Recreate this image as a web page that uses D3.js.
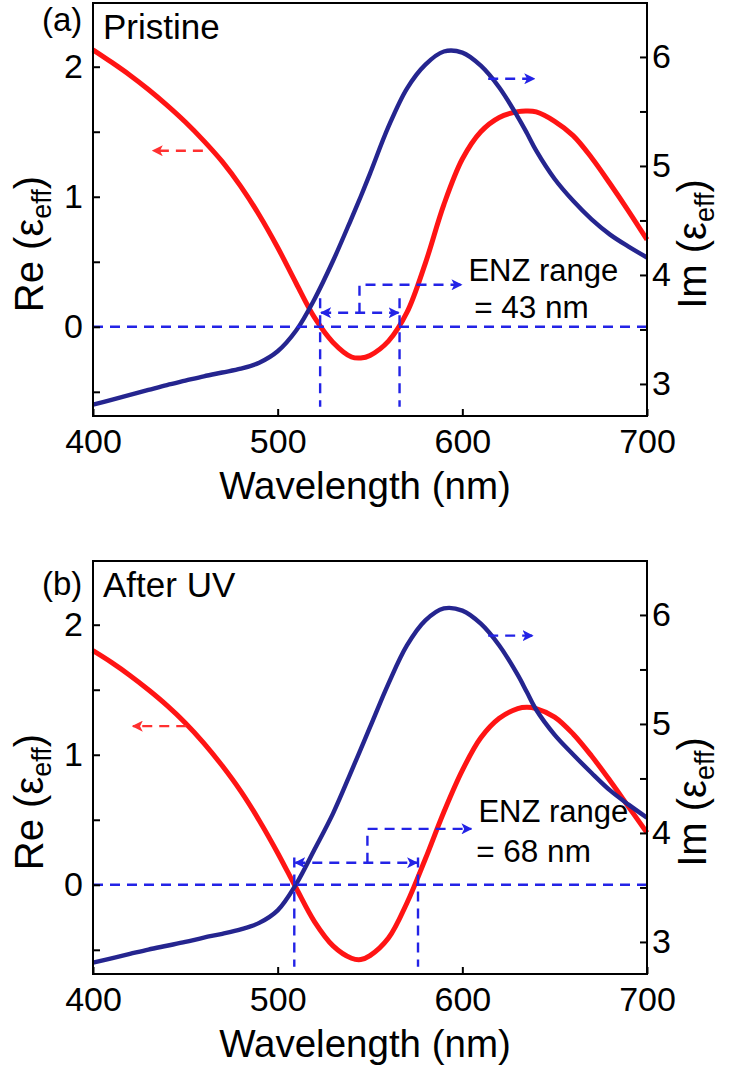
<!DOCTYPE html>
<html><head><meta charset="utf-8">
<script src="https://cdn.jsdelivr.net/npm/d3@7/dist/d3.min.js"></script>
<style>
body{margin:0;background:#fff;}
text{font-family:"Liberation Sans",Arial,sans-serif;fill:#000;}
</style></head>
<body><svg id="c" width="744" height="1068"></svg>
<script>
// Wavelength grid (nm)
const wavelength = [400,410,420,430,440,450,460,470,480,490,500,510,520,530,540,545,550,560,570,580,590,600,610,620,630,635,640,650,660,670,680,690,700];
// Panel (a) Pristine
const reA = [2.13,2.035,1.935,1.825,1.705,1.575,1.43,1.27,1.08,0.86,0.61,0.335,0.07,-0.12,-0.232,-0.24,-0.22,-0.11,0.11,0.49,0.94,1.29,1.50,1.61,1.655,1.66,1.652,1.58,1.47,1.30,1.10,0.89,0.67];
const imA = [2.81,2.855,2.90,2.945,2.99,3.03,3.07,3.105,3.14,3.195,3.30,3.49,3.78,4.13,4.52,4.72,4.93,5.36,5.71,5.93,6.05,6.04,5.92,5.72,5.45,5.30,5.14,4.88,4.68,4.51,4.37,4.26,4.16];
// Panel (b) After UV
const reB = [1.80,1.71,1.61,1.50,1.38,1.245,1.09,0.915,0.72,0.495,0.245,-0.025,-0.285,-0.47,-0.565,-0.575,-0.545,-0.41,-0.14,0.20,0.56,0.88,1.13,1.28,1.355,1.365,1.355,1.29,1.16,0.99,0.80,0.60,0.40];
const imB = [2.81,2.85,2.89,2.93,2.965,3.00,3.04,3.075,3.115,3.175,3.29,3.53,3.85,4.18,4.57,4.77,4.97,5.37,5.72,5.95,6.06,6.04,5.92,5.72,5.45,5.29,5.13,4.90,4.72,4.55,4.39,4.26,4.14];

const xTicks = [400,500,600,700];
const leftTicks = [0,1,2];
const leftMinor = [-0.5,0.5,1.5];
const rightTicks = [3,4,5,6];
const rightMinor = [3.5,4.5,5.5];

const panels = [
  {tag:"(a)", name:"Pristine", re:reA, im:imA, top:3, range:"= 43 nm",
   enz:[523,566], brX:544.3, arrV:0.108, brTop:0.323, brTip:599.5, vTop:0.22, vBot:-0.615,
   txt1:0.354, txt2:0.069, txt2x:606.4,
   redArr:{y:1.354,x1:459.5,x2:432.4}, bluArr:{y:5.80,x1:614,x2:638.9},
   tagY:31, nameY:39},
  {tag:"(b)", name:"After UV", re:reB, im:imB, top:561, range:"= 68 nm",
   enz:[509,576], brX:548.6, arrV:0.17, brTop:0.43, brTip:604.9, vTop:0.21, vBot:-0.63,
   txt1:0.48, txt2:0.178, txt2x:607.5,
   redArr:{y:1.22,x1:450.5,x2:421.6}, bluArr:{y:5.81,x1:614,x2:638},
   tagY:595, nameY:597}
];

const L=93, R=647, H=413;
const svg = d3.select("#c");
const defs = svg.append("defs");
function marker(id,color){
  defs.append("marker").attr("id",id).attr("viewBox","0 0 10 10").attr("refX",9).attr("refY",5)
   .attr("markerWidth",4.6).attr("markerHeight",4.6).attr("markerUnits","strokeWidth").attr("orient","auto-start-reverse")
   .append("path").attr("d","M0,0 L10,5 L0,10 L2.5,5 Z").attr("fill",color);
}
const dashBlue="#2323e6", dashRed="#ff3030";
marker("mb",dashBlue); marker("mr",dashRed);

panels.forEach(p=>{
  const T=p.top, B=p.top+H;
  const x = d3.scaleLinear().domain([400,700]).range([L,R]);
  const yL = d3.scaleLinear().domain([-0.686,2.49]).range([B,T]);
  const yR = d3.scaleLinear().domain([2.706,6.495]).range([B,T]);
  const g = svg.append("g");

  // curves
  const data = wavelength.map((w,i)=>({w, re:p.re[i], im:p.im[i]}));
  g.append("path").datum(data).attr("fill","none").attr("stroke","#ff1414").attr("stroke-width",5)
   .attr("d", d3.line().x(d=>x(d.w)).y(d=>yL(d.re)).curve(d3.curveCatmullRom.alpha(0.5)));
  g.append("path").datum(data).attr("fill","none").attr("stroke","#25258f").attr("stroke-width",4.4)
   .attr("d", d3.line().x(d=>x(d.w)).y(d=>yR(d.im)).curve(d3.curveCatmullRom.alpha(0.5)));

  // dashed annotations
  const dl = (x1,y1,x2,y2,col,opts={})=>{
    const l = g.append("line").attr("x1",x1).attr("y1",y1).attr("x2",x2).attr("y2",y2)
      .attr("stroke",col).attr("stroke-width",2.4).attr("stroke-dasharray","10,7");
    if(opts.end) l.attr("marker-end",`url(#${opts.end})`);
    if(opts.start) l.attr("marker-start",`url(#${opts.start})`);
    return l;
  };
  dl(L,yL(0),R,yL(0),dashBlue);
  p.enz.forEach(w=> dl(x(w),yL(p.vTop),x(w),yL(p.vBot),dashBlue));
  dl(x(p.enz[0])+1,yL(p.arrV),x(p.enz[1])-1,yL(p.arrV),dashBlue,{start:"mb",end:"mb"});
  g.append("path").attr("d",`M${x(p.brX)},${yL(p.arrV)} L${x(p.brX)},${yL(p.brTop)} L${x(p.brTip)},${yL(p.brTop)}`)
   .attr("fill","none").attr("stroke",dashBlue).attr("stroke-width",2.4).attr("stroke-dasharray","10,7")
   .attr("marker-end","url(#mb)");
  dl(x(p.redArr.x1),yL(p.redArr.y),x(p.redArr.x2),yL(p.redArr.y),dashRed,{end:"mr"});
  dl(x(p.bluArr.x1),yR(p.bluArr.y),x(p.bluArr.x2),yR(p.bluArr.y),dashBlue,{end:"mb"});

  g.append("text").attr("x",x(p.brTip)+7).attr("y",yL(p.txt1)).attr("font-size",31).text("ENZ range");
  g.append("text").attr("x",x(p.txt2x)).attr("y",yL(p.txt2)).attr("font-size",31.5).text(p.range);

  // frame
  g.append("rect").attr("x",L).attr("y",T).attr("width",R-L).attr("height",H)
   .attr("fill","none").attr("stroke","#000").attr("stroke-width",2);

  // axes
  g.append("g").attr("transform",`translate(0,${B})`)
    .call(d3.axisBottom(x).tickValues(xTicks).tickSize(-7).tickPadding(13).tickFormat(d3.format("d")));
  const ayl = g.append("g").attr("transform",`translate(${L},0)`)
    .call(d3.axisLeft(yL).tickValues(leftTicks).tickSize(-7).tickPadding(10).tickFormat(d3.format("d")));
  g.append("g").attr("transform",`translate(${L},0)`)
    .call(d3.axisLeft(yL).tickValues(leftMinor).tickSize(-7).tickFormat(""));
  const ayr = g.append("g").attr("transform",`translate(${R},0)`)
    .call(d3.axisRight(yR).tickValues(rightTicks).tickSize(-7).tickPadding(6).tickFormat(d3.format("d")));
  g.append("g").attr("transform",`translate(${R},0)`)
    .call(d3.axisRight(yR).tickValues(rightMinor).tickSize(-7).tickFormat(""));
  g.selectAll(".domain").remove();
  g.selectAll(".tick line").attr("stroke","#000").attr("stroke-width",2);
  g.selectAll(".tick text").attr("font-size",34).attr("font-family",'"Liberation Sans",Arial,sans-serif').attr("fill","#000");
  ayr.selectAll(".tick text").attr("x",5);
  ayl.selectAll(".tick text").attr("x",-10);

  // titles
  g.append("text").attr("x",(L+R)/2-5).attr("y",B+83).attr("text-anchor","middle").attr("font-size",38.5).text("Wavelength (nm)");
  const lt = g.append("text").attr("transform",`translate(43,${T+241}) rotate(-90)`).attr("text-anchor","middle").attr("font-size",40);
  lt.append("tspan").text("Re (ε");
  lt.append("tspan").attr("font-size",27).attr("dy",8).text("eff");
  lt.append("tspan").attr("dy",-8).text(")");
  const rt = g.append("text").attr("transform",`translate(706,${T+241}) rotate(-90)`).attr("text-anchor","middle").attr("font-size",40);
  rt.append("tspan").text("Im (ε");
  rt.append("tspan").attr("font-size",27).attr("dy",8).text("eff");
  rt.append("tspan").attr("dy",-8).text(")");

  g.append("text").attr("x",42).attr("y",p.tagY).attr("font-size",33).text(p.tag);
  g.append("text").attr("x",103).attr("y",p.nameY).attr("font-size",35).text(p.name);
});
</script></body></html>
